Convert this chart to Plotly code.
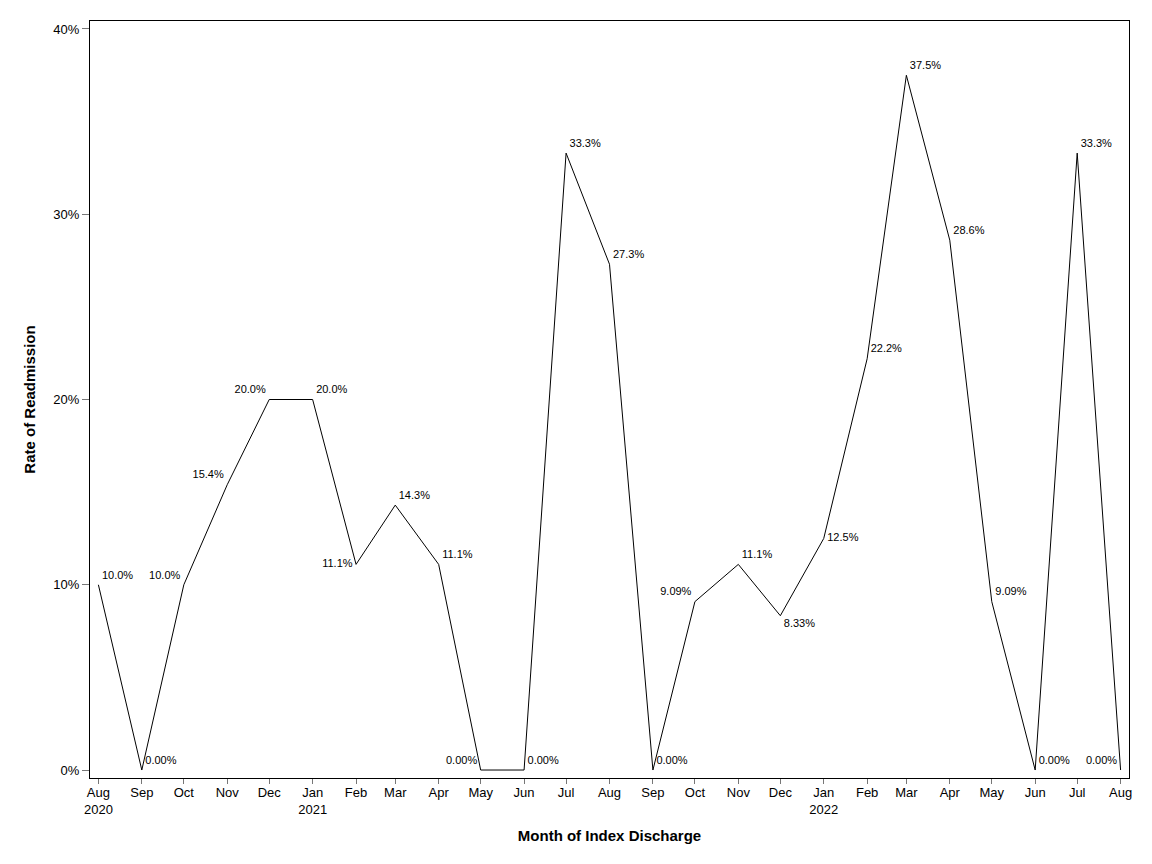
import plotly.graph_objects as go

months = [
    "2020-08-01", "2020-09-01", "2020-10-01", "2020-11-01", "2020-12-01",
    "2021-01-01", "2021-02-01", "2021-03-01", "2021-04-01", "2021-05-01",
    "2021-06-01", "2021-07-01", "2021-08-01", "2021-09-01", "2021-10-01",
    "2021-11-01", "2021-12-01", "2022-01-01", "2022-02-01", "2022-03-01",
    "2022-04-01", "2022-05-01", "2022-06-01", "2022-07-01", "2022-08-01",
]
rate = [
    0.100, 0.0, 0.100, 0.154, 0.200,
    0.200, 0.111, 0.143, 0.111, 0.0,
    0.0, 0.333, 0.273, 0.0, 0.0909,
    0.111, 0.0833, 0.125, 0.222, 0.375,
    0.286, 0.0909, 0.0, 0.333, 0.0,
]
rate_labels = [
    "10.0%", "0.00%", "10.0%", "15.4%", "20.0%",
    "20.0%", "11.1%", "14.3%", "11.1%", "0.00%",
    "0.00%", "33.3%", "27.3%", "0.00%", "9.09%",
    "11.1%", "8.33%", "12.5%", "22.2%", "37.5%",
    "28.6%", "9.09%", "0.00%", "33.3%", "0.00%",
]
label_pos = [
    "top right", "top right", "top left", "top left", "top left",
    "top right", "middle left", "top right", "top right", "top left",
    "top right", "top right", "top right", "top right", "top left",
    "top right", "bottom right", "middle right", "top right", "top right",
    "top right", "top right", "top right", "top right", "top left",
]
tick_text = [
    "Aug<br>2020", "Sep", "Oct", "Nov", "Dec",
    "Jan<br>2021", "Feb", "Mar", "Apr", "May",
    "Jun", "Jul", "Aug", "Sep", "Oct",
    "Nov", "Dec", "Jan<br>2022", "Feb", "Mar",
    "Apr", "May", "Jun", "Jul", "Aug",
]

fig = go.Figure()
fig.add_trace(go.Scatter(
    x=months, y=rate,
    mode="lines+markers+text",
    line=dict(color="black", width=1),
    marker=dict(size=4, color="rgba(0,0,0,0)"),
    text=rate_labels,
    textposition=label_pos,
    textfont=dict(size=11, color="black"),
    showlegend=False,
))

fig.update_xaxes(
    range=["2020-07-26", "2022-08-07"],
    tickvals=months, ticktext=tick_text,
    ticks="outside", ticklen=5, tickcolor="#777777",
    ticklabelstandoff=-3,
    showline=True, linecolor="black", linewidth=1, mirror=True,
    showgrid=False, zeroline=False,
    tickfont=dict(size=13, color="black"),
    title=dict(text="<b>Month of Index Discharge</b>", font=dict(size=15, color="black"), standoff=14),
)
fig.update_yaxes(
    range=[-0.0043, 0.4043],
    tickvals=[0, 0.1, 0.2, 0.3, 0.4], tickformat=".0%",
    ticks="outside", ticklen=7, tickcolor="#777777",
    showline=True, linecolor="black", linewidth=1, mirror=True,
    showgrid=False, zeroline=False,
    tickfont=dict(size=13, color="black"),
    title=dict(text="<b>Rate of Readmission</b>", font=dict(size=15, color="black"), standoff=14),
)
fig.update_layout(
    width=1136, height=848,
    plot_bgcolor="white", paper_bgcolor="white",
    font=dict(family="Liberation Sans", color="black"),
    margin=dict(l=82, r=13, t=13, b=78),
)

fig.write_html("out.html")
